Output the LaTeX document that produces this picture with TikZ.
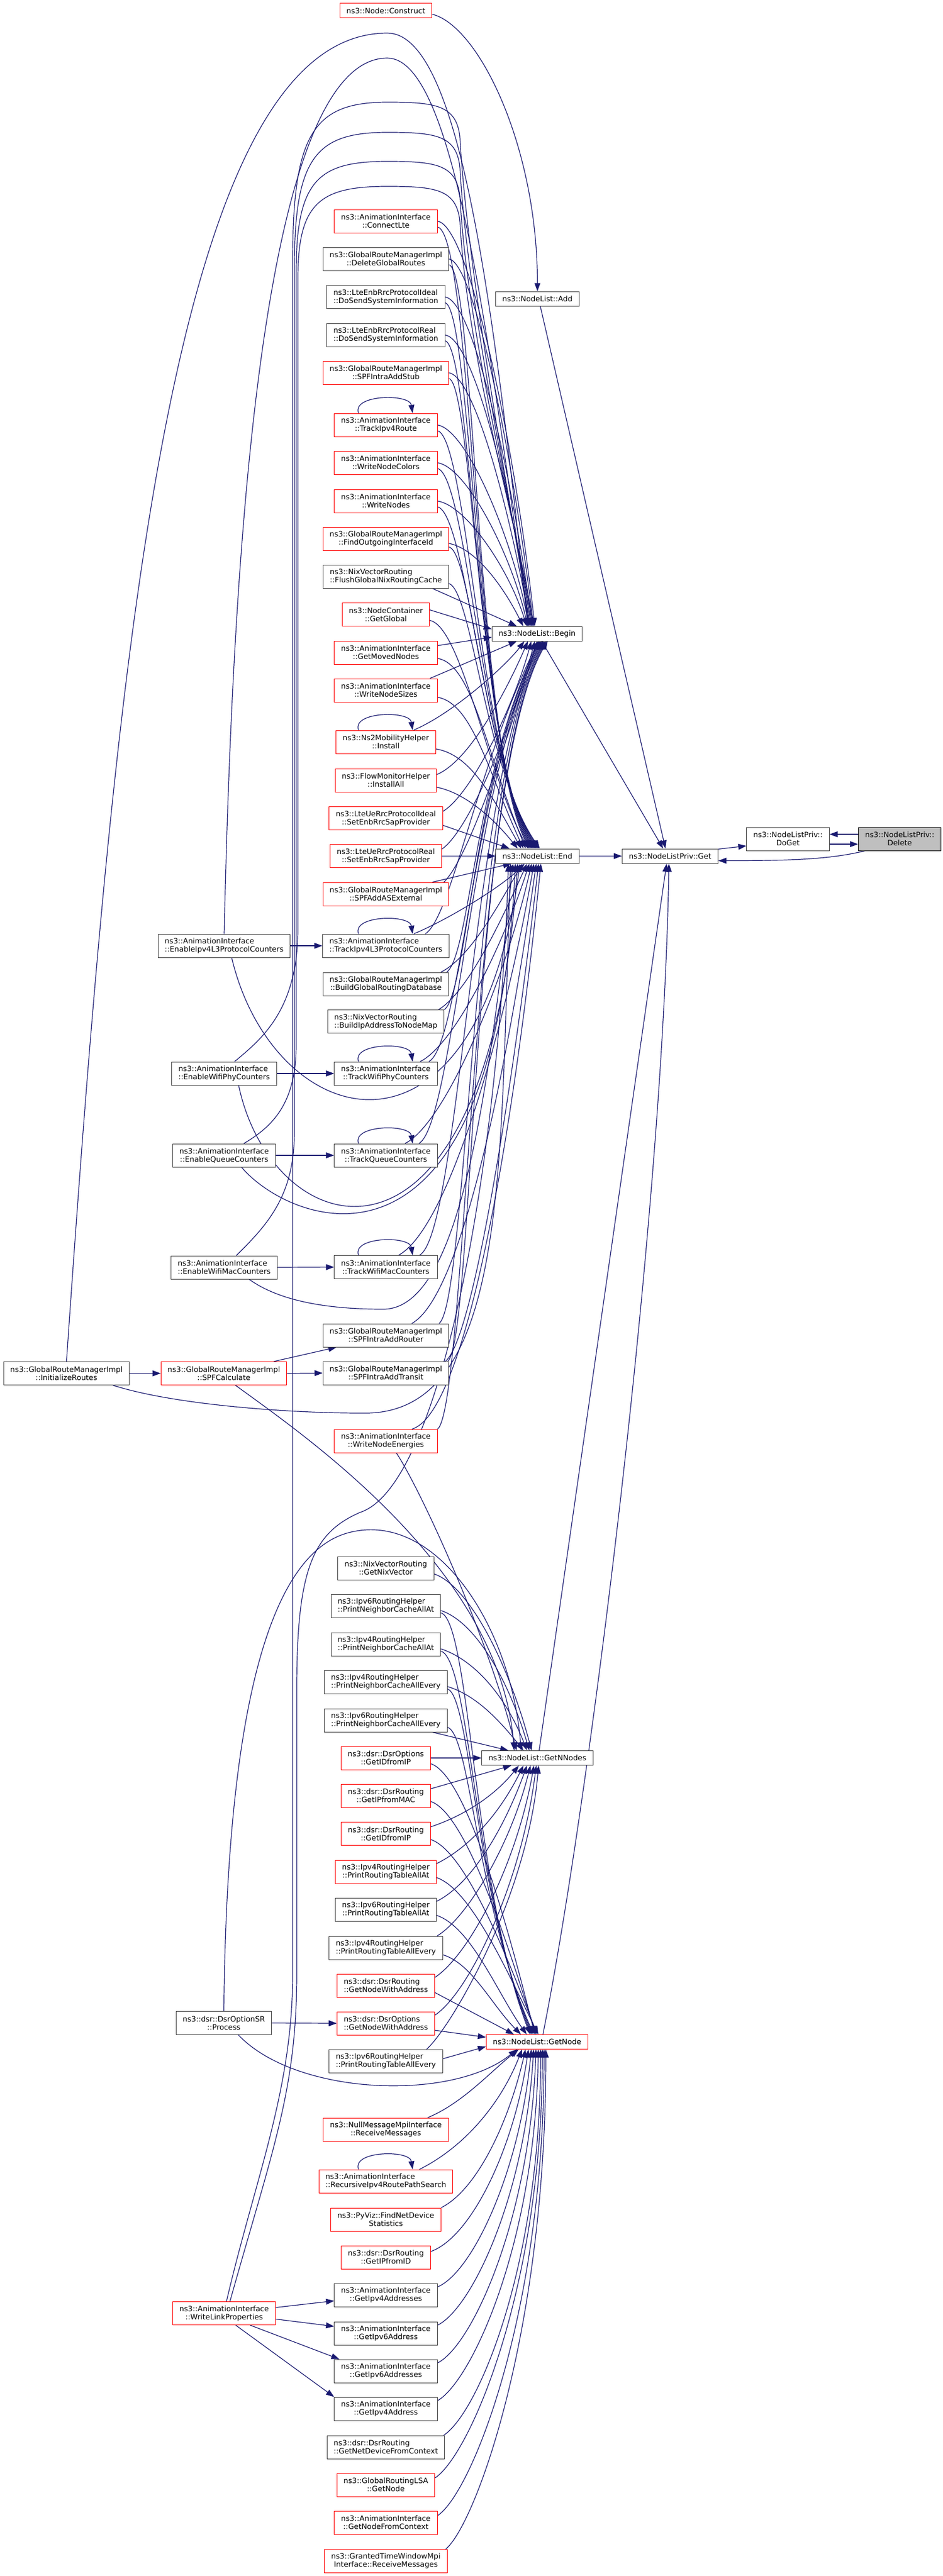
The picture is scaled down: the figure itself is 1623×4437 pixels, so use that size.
\documentclass[tikz,border=0pt]{standalone}
\usepackage{fontspec}
\setmainfont{DejaVu Sans}
\usepackage{tikz}
\usetikzlibrary{arrows.meta,backgrounds}

\definecolor{edgeblue}{RGB}{25,25,112}
\definecolor{boxgrey}{RGB}{64,64,64}
\definecolor{boxred}{RGB}{255,0,0}
\definecolor{rootgrey}{RGB}{191,191,191}

\newcommand{\fnlabel}[2]{%
  \setbox0\hbox{#1}\setbox2\hbox{#2}%
  \ifdim\wd0<\wd2 \dimen0=\wd2 \else \dimen0=\wd0 \fi
  \vbox{\hbox to\dimen0{\box0\hfil}\hbox to\dimen0{\hfil\box2\hfil}}}

\tikzset{
  fnbox/.style={draw=boxgrey, fill=white, line width=1pt, inner xsep=11.5pt,
    inner ysep=0pt, minimum height=40pt,
    font=\fontsize{12.8pt}{14pt}\selectfont},
  fnboxred/.style={fnbox, draw=boxred},
  fnsingle/.style={minimum height=25pt},
  fnroot/.style={fnbox, draw=black, fill=rootgrey},
  calledge/.style={draw=edgeblue, line width=1.2pt,
    -{Triangle[length=14pt,width=10pt]}}
}

\begin{document}
\begin{tikzpicture}[x=1pt, y=-1pt]
\useasboundingbox (0,0) rectangle (1623,4437);

\node[fnroot] (Delete) at (1549.5,1445) {\fnlabel{ns3::NodeListPriv::}{Delete}};
\node[fnbox] (DoGet) at (1357,1445) {\fnlabel{ns3::NodeListPriv::}{DoGet}};
\node[fnbox, fnsingle] (Get) at (1154,1474.5) {ns3::NodeListPriv::Get};
\node[fnbox, fnsingle] (Add) at (925.5,514.5) {ns3::NodeList::Add};
\node[fnbox, fnsingle] (Begin) at (925,1091.5) {ns3::NodeList::Begin};
\node[fnbox, fnsingle] (End) at (925.5,1474.5) {ns3::NodeList::End};
\node[fnbox, fnsingle] (GetNNodes) at (925.5,3028) {ns3::NodeList::GetNNodes};
\node[fnboxred, fnsingle] (GetNode) at (925,3517) {ns3::NodeList::GetNode};

\node[fnboxred, fnsingle] (Construct) at (664.5,18.5) {ns3::Node::Construct};
\node[fnboxred] (ConnectLte) at (664.5,381) {\fnlabel{ns3::AnimationInterface}{::ConnectLte}};
\node[fnbox] (DeleteRoutes) at (664.5,446) {\fnlabel{ns3::GlobalRouteManagerImpl}{::DeleteGlobalRoutes}};
\node[fnbox] (EnbIdealSysInfo) at (664.5,511.5) {\fnlabel{ns3::LteEnbRrcProtocolIdeal}{::DoSendSystemInformation}};
\node[fnbox] (EnbRealSysInfo) at (664.5,577) {\fnlabel{ns3::LteEnbRrcProtocolReal}{::DoSendSystemInformation}};
\node[fnboxred] (AddStub) at (664.5,642) {\fnlabel{ns3::GlobalRouteManagerImpl}{::SPFIntraAddStub}};
\node[fnboxred] (TrackRoute) at (664.5,732) {\fnlabel{ns3::AnimationInterface}{::TrackIpv4Route}};
\node[fnboxred] (NodeColors) at (664.5,797) {\fnlabel{ns3::AnimationInterface}{::WriteNodeColors}};
\node[fnboxred] (WriteNodes) at (664.5,863) {\fnlabel{ns3::AnimationInterface}{::WriteNodes}};
\node[fnboxred] (FindIface) at (664.5,928) {\fnlabel{ns3::GlobalRouteManagerImpl}{::FindOutgoingInterfaceId}};
\node[fnbox] (FlushNix) at (664.5,993) {\fnlabel{ns3::NixVectorRouting}{::FlushGlobalNixRoutingCache}};
\node[fnboxred] (GetGlobal) at (664.5,1058.5) {\fnlabel{ns3::NodeContainer}{::GetGlobal}};
\node[fnboxred] (MovedNodes) at (664.5,1124) {\fnlabel{ns3::AnimationInterface}{::GetMovedNodes}};
\node[fnboxred] (NodeSizes) at (664.5,1189) {\fnlabel{ns3::AnimationInterface}{::WriteNodeSizes}};
\node[fnboxred] (Ns2Install) at (664.5,1278) {\fnlabel{ns3::Ns2MobilityHelper}{::Install}};
\node[fnboxred] (FlowInstall) at (664.5,1344) {\fnlabel{ns3::FlowMonitorHelper}{::InstallAll}};
\node[fnboxred] (UeIdealSap) at (664.5,1409.5) {\fnlabel{ns3::LteUeRrcProtocolIdeal}{::SetEnbRrcSapProvider}};
\node[fnboxred] (UeRealSap) at (664.5,1474.5) {\fnlabel{ns3::LteUeRrcProtocolReal}{::SetEnbRrcSapProvider}};
\node[fnboxred] (AddExternal) at (664.5,1540) {\fnlabel{ns3::GlobalRouteManagerImpl}{::SPFAddASExternal}};
\node[fnbox] (TrackL3) at (664.5,1629) {\fnlabel{ns3::AnimationInterface}{::TrackIpv4L3ProtocolCounters}};
\node[fnbox] (BuildDb) at (664.5,1695) {\fnlabel{ns3::GlobalRouteManagerImpl}{::BuildGlobalRoutingDatabase}};
\node[fnbox] (BuildIpMap) at (664.5,1759.5) {\fnlabel{ns3::NixVectorRouting}{::BuildIpAddressToNodeMap}};
\node[fnbox] (TrackPhy) at (664.5,1849) {\fnlabel{ns3::AnimationInterface}{::TrackWifiPhyCounters}};
\node[fnbox] (TrackQueue) at (664.5,1990) {\fnlabel{ns3::AnimationInterface}{::TrackQueueCounters}};
\node[fnbox] (TrackMac) at (664.5,2182.5) {\fnlabel{ns3::AnimationInterface}{::TrackWifiMacCounters}};
\node[fnbox] (AddRouter) at (664.5,2300) {\fnlabel{ns3::GlobalRouteManagerImpl}{::SPFIntraAddRouter}};
\node[fnbox] (AddTransit) at (664.5,2365) {\fnlabel{ns3::GlobalRouteManagerImpl}{::SPFIntraAddTransit}};
\node[fnboxred] (NodeEnergies) at (664.5,2482) {\fnlabel{ns3::AnimationInterface}{::WriteNodeEnergies}};
\node[fnbox] (NixVector) at (664.5,2701) {\fnlabel{ns3::NixVectorRouting}{::GetNixVector}};
\node[fnbox] (SixNbrAt) at (664.5,2766) {\fnlabel{ns3::Ipv6RoutingHelper}{::PrintNeighborCacheAllAt}};
\node[fnbox] (FourNbrAt) at (664.5,2832) {\fnlabel{ns3::Ipv4RoutingHelper}{::PrintNeighborCacheAllAt}};
\node[fnbox] (FourNbrEvery) at (664.5,2897) {\fnlabel{ns3::Ipv4RoutingHelper}{::PrintNeighborCacheAllEvery}};
\node[fnbox] (SixNbrEvery) at (664.5,2963) {\fnlabel{ns3::Ipv6RoutingHelper}{::PrintNeighborCacheAllEvery}};
\node[fnboxred] (OptIdFromIp) at (664.5,3028) {\fnlabel{ns3::dsr::DsrOptions}{::GetIDfromIP}};
\node[fnboxred] (RtIpFromMac) at (664.5,3093) {\fnlabel{ns3::dsr::DsrRouting}{::GetIPfromMAC}};
\node[fnboxred] (RtIdFromIp) at (664.5,3158.5) {\fnlabel{ns3::dsr::DsrRouting}{::GetIDfromIP}};
\node[fnboxred] (FourTableAt) at (664.5,3224) {\fnlabel{ns3::Ipv4RoutingHelper}{::PrintRoutingTableAllAt}};
\node[fnbox] (SixTableAt) at (664.5,3289) {\fnlabel{ns3::Ipv6RoutingHelper}{::PrintRoutingTableAllAt}};
\node[fnbox] (FourTableEvery) at (664.5,3355) {\fnlabel{ns3::Ipv4RoutingHelper}{::PrintRoutingTableAllEvery}};
\node[fnboxred] (RtNodeAddr) at (664.5,3420) {\fnlabel{ns3::dsr::DsrRouting}{::GetNodeWithAddress}};
\node[fnboxred] (OptNodeAddr) at (664.5,3485) {\fnlabel{ns3::dsr::DsrOptions}{::GetNodeWithAddress}};
\node[fnbox] (SixTableEvery) at (664.5,3550) {\fnlabel{ns3::Ipv6RoutingHelper}{::PrintRoutingTableAllEvery}};
\node[fnboxred] (NullRecv) at (664.5,3668) {\fnlabel{ns3::NullMessageMpiInterface}{::ReceiveMessages}};
\node[fnboxred] (RouteSearch) at (664.5,3757) {\fnlabel{ns3::AnimationInterface}{::RecursiveIpv4RoutePathSearch}};
\node[fnboxred] (PyVizStats) at (664.5,3823) {\fnlabel{ns3::PyViz::FindNetDevice}{Statistics}};
\node[fnboxred] (RtIpFromId) at (664.5,3888) {\fnlabel{ns3::dsr::DsrRouting}{::GetIPfromID}};
\node[fnbox] (FourAddrs) at (664.5,3953) {\fnlabel{ns3::AnimationInterface}{::GetIpv4Addresses}};
\node[fnbox] (SixAddr) at (664.5,4019) {\fnlabel{ns3::AnimationInterface}{::GetIpv6Address}};
\node[fnbox] (SixAddrs) at (664.5,4084) {\fnlabel{ns3::AnimationInterface}{::GetIpv6Addresses}};
\node[fnbox] (FourAddr) at (664.5,4149) {\fnlabel{ns3::AnimationInterface}{::GetIpv4Address}};
\node[fnbox] (DevFromCtx) at (664.5,4215) {\fnlabel{ns3::dsr::DsrRouting}{::GetNetDeviceFromContext}};
\node[fnboxred] (LsaNode) at (664.5,4280) {\fnlabel{ns3::GlobalRoutingLSA}{::GetNode}};
\node[fnboxred] (NodeFromCtx) at (664.5,4345) {\fnlabel{ns3::AnimationInterface}{::GetNodeFromContext}};
\node[fnboxred] (GrantedRecv) at (664.5,4411) {\fnlabel{ns3::GrantedTimeWindowMpi}{Interface::ReceiveMessages}};

\node[fnbox] (InitRoutes) at (114.5,2365.5) {\fnlabel{ns3::GlobalRouteManagerImpl}{::InitializeRoutes}};
\node[fnbox] (EnableL3) at (386,1629) {\fnlabel{ns3::AnimationInterface}{::EnableIpv4L3ProtocolCounters}};
\node[fnbox] (EnablePhy) at (386,1849) {\fnlabel{ns3::AnimationInterface}{::EnableWifiPhyCounters}};
\node[fnbox] (EnableQueue) at (386,1990) {\fnlabel{ns3::AnimationInterface}{::EnableQueueCounters}};
\node[fnbox] (EnableMac) at (386,2183) {\fnlabel{ns3::AnimationInterface}{::EnableWifiMacCounters}};
\node[fnboxred] (SpfCalc) at (385.5,2365.5) {\fnlabel{ns3::GlobalRouteManagerImpl}{::SPFCalculate}};
\node[fnbox] (OptionSR) at (385.5,3484.5) {\fnlabel{ns3::dsr::DsrOptionSR}{::Process}};
\node[fnboxred] (LinkProps) at (386,3984.5) {\fnlabel{ns3::AnimationInterface}{::WriteLinkProperties}};

\begin{scope}[on background layer]
\fill[white] (0,0) rectangle (1623,4437);

\draw[calledge] ([yshift=-6pt]Construct.east) .. controls +(80,20) and +(0,-250) .. (Add.north);
\draw[calledge] ([xshift=5pt]Add.south) -- ([xshift=-8pt]Get.north);
\draw[calledge] ([xshift=8pt]Begin.south) -- ([xshift=-12pt]Get.north);
\draw[calledge] (End.east) -- (Get.west);
\draw[calledge] ([xshift=3pt]GetNNodes.north) -- ([xshift=-6pt]Get.south);
\draw[calledge] ([xshift=10pt]GetNode.north) .. controls +(80,-400) and +(-10,600) .. ([xshift=-2pt]Get.south);
\draw[calledge] ([yshift=12pt]Get.east) -- ([yshift=-12pt]DoGet.west);
\draw[calledge] ([yshift=8pt]Delete.west) -- ([yshift=8pt]DoGet.east);
\draw[calledge] ([yshift=-9pt]DoGet.east) -- ([yshift=-9pt]Delete.west);
\draw[calledge] ([xshift=-60pt]Delete.south) .. controls +(-60,15) and +(120,0) .. ([yshift=-8pt]Get.east);

\draw[calledge] (ConnectLte.east) .. controls +(55,8) and +(-35,-314) .. ([xshift=-4pt]Begin.north);
\draw[calledge] (DeleteRoutes.east) .. controls +(45,8) and +(-35,-285) .. ([xshift=-6pt]Begin.north);
\draw[calledge] (EnbIdealSysInfo.east) .. controls +(50,8) and +(-35,-255) .. ([xshift=-8pt]Begin.north);
\draw[calledge] (EnbRealSysInfo.east) .. controls +(50,8) and +(-35,-226) .. ([xshift=-10pt]Begin.north);
\draw[calledge] (AddStub.east) .. controls +(45,8) and +(-35,-197) .. ([xshift=-12pt]Begin.north);
\draw[calledge] (TrackRoute.east) .. controls +(50,8) and +(-30,-156) .. ([xshift=-14pt]Begin.north);
\draw[calledge] (NodeColors.east) .. controls +(50,8) and +(-30,-127) .. ([xshift=-16pt]Begin.north);
\draw[calledge] (WriteNodes.east) .. controls +(50,8) and +(-30,-97) .. ([xshift=-18pt]Begin.north);
\draw[calledge] ([yshift=-8pt]FindIface.east) .. controls +(50,10) and +(-30,-60) .. ([xshift=-24pt]Begin.north);
\draw[calledge] ([xshift=80pt]FlushNix.south) -- ([xshift=-35pt]Begin.north);
\draw[calledge] ([yshift=8pt]GetGlobal.east) -- ([yshift=8pt]Begin.west);
\draw[calledge] ([yshift=12pt]MovedNodes.east) -- ([yshift=-6pt]Begin.west);

\draw[calledge] ([yshift=-10pt]ConnectLte.east) .. controls +(60,12) and (818,1280) .. ([xshift=-14pt]End.north);
\draw[calledge] ([yshift=-10pt]DeleteRoutes.east) .. controls +(45,12) and (820,1285) .. ([xshift=-12pt]End.north);
\draw[calledge] ([yshift=-10pt]EnbIdealSysInfo.east) .. controls +(45,12) and (822,1290) .. ([xshift=-10pt]End.north);
\draw[calledge] ([yshift=-10pt]EnbRealSysInfo.east) .. controls +(45,12) and (824,1295) .. ([xshift=-8pt]End.north);
\draw[calledge] ([yshift=-10pt]AddStub.east) .. controls +(40,12) and (826,1300) .. ([xshift=-6pt]End.north);
\draw[calledge] ([yshift=-10pt]TrackRoute.east) .. controls +(50,12) and (828,1305) .. ([xshift=-4pt]End.north);
\draw[calledge] ([yshift=-10pt]NodeColors.east) .. controls +(50,12) and (830,1310) .. ([xshift=-2pt]End.north);
\draw[calledge] ([yshift=-10pt]WriteNodes.east) .. controls +(50,12) and (832,1315) .. (End.north);
\draw[calledge] ([yshift=-14pt]FindIface.east) .. controls +(40,12) and (834,1320) .. ([xshift=2pt]End.north);
\draw[calledge] ([yshift=-12pt]FlushNix.east) .. controls +(40,12) and (836,1325) .. ([xshift=4pt]End.north);
\draw[calledge] ([yshift=-10pt]GetGlobal.east) .. controls +(55,12) and (838,1330) .. ([xshift=-16pt]End.north);
\draw[calledge] ([yshift=-10pt]MovedNodes.east) .. controls +(60,10) and +(-70,-170) .. ([xshift=-20pt]End.north);
\draw[calledge] ([yshift=-12pt]NodeSizes.east) .. controls +(60,10) and +(-60,-130) .. ([xshift=-24pt]End.north);
\draw[calledge] ([yshift=-12pt]Ns2Install.east) .. controls +(60,10) and +(-50,-90) .. ([xshift=-28pt]End.north);
\draw[calledge] ([yshift=-12pt]FlowInstall.east) .. controls +(50,10) and +(-40,-50) .. ([xshift=-34pt]End.north);
\draw[calledge] ([yshift=-12pt]UeIdealSap.east) -- ([xshift=-48pt]End.north);
\draw[calledge] (UeRealSap.east) -- (End.west);

\draw[calledge] ([xshift=76pt]NodeSizes.north) -- ([xshift=-35pt]Begin.south);
\draw[calledge] ([xshift=48pt]Ns2Install.north) .. controls +(70,-30) and +(-30,40) .. ([xshift=-22pt]Begin.south);
\draw[calledge] ([yshift=10pt]FlowInstall.east) .. controls +(60,-25) and +(-30,70) .. ([xshift=-16pt]Begin.south);
\draw[calledge] ([yshift=12pt]UeIdealSap.east) .. controls +(50,-30) and +(-30,110) .. ([xshift=-10pt]Begin.south);
\draw[calledge] ([yshift=12pt]UeRealSap.east) .. controls +(45,-30) and +(-40,150) .. ([xshift=-4pt]Begin.south);
\draw[calledge] ([xshift=100pt]AddExternal.north) .. controls +(40,-40) and +(-60,200) .. (Begin.south);
\draw[calledge] ([xshift=80pt]AddExternal.north) -- ([xshift=-45pt]End.south);

\draw[calledge] ([xshift=48pt]TrackL3.north) .. controls +(60,-25) and +(-40,40) .. ([xshift=-22pt]End.south);
\draw[calledge] ([xshift=68pt]TrackL3.north) .. controls +(45,-30) and (818,1330) .. ([xshift=2pt]Begin.south);
\draw[calledge] ([xshift=-14pt]BuildDb.north east) .. controls +(50,-25) and +(-40,70) .. ([xshift=-26pt]End.south);
\draw[calledge] ([xshift=-4pt]BuildDb.north east) .. controls +(40,-30) and (818,1330) .. ([xshift=4pt]Begin.south);
\draw[calledge] ([xshift=-10pt]BuildIpMap.north east) .. controls +(50,-30) and +(-45,100) .. ([xshift=-18pt]End.south);
\draw[calledge] (BuildIpMap.north east) .. controls +(40,-30) and (816,1330) .. ([xshift=6pt]Begin.south);
\draw[calledge] ([xshift=-30pt]TrackPhy.north east) .. controls +(60,-30) and +(-45,140) .. ([xshift=-14pt]End.south);
\draw[calledge] ([xshift=-15pt]TrackPhy.north east) .. controls +(55,-30) and (816,1330) .. ([xshift=8pt]Begin.south);
\draw[calledge] ([xshift=-56pt]TrackQueue.north east) .. controls +(70,-35) and +(-45,200) .. ([xshift=-10pt]End.south);
\draw[calledge] ([xshift=-32pt]TrackQueue.north east) .. controls +(60,-35) and (814,1330) .. ([xshift=10pt]Begin.south);
\draw[calledge] ([xshift=-67pt]TrackMac.north east) .. controls +(90,-50) and +(-45,260) .. ([xshift=-6pt]End.south);
\draw[calledge] ([xshift=-31pt]TrackMac.north east) .. controls +(70,-40) and (814,1330) .. ([xshift=12pt]Begin.south);
\draw[calledge] ([xshift=-64pt]AddRouter.north east) .. controls +(90,-50) and +(-45,320) .. ([xshift=-2pt]End.south);
\draw[calledge] ([xshift=-17pt]AddRouter.north east) .. controls +(50,-40) and (812,1330) .. ([xshift=14pt]Begin.south);
\draw[calledge] ([xshift=-6pt]AddTransit.north east) .. controls +(50,-40) and +(-40,350) .. ([xshift=2pt]End.south);
\draw[calledge] ([xshift=-2pt]AddTransit.north east) .. controls +(45,-40) and (812,1330) .. ([xshift=16pt]Begin.south);
\draw[calledge] ([xshift=-44pt]NodeEnergies.north east) .. controls +(100,-30) and +(-40,400) .. ([xshift=6pt]End.south);
\draw[calledge] (NodeEnergies.north east) .. controls +(50,-40) and (810,1330) .. ([xshift=18pt]Begin.south);
\draw[calledge] ([xshift=18pt]NodeEnergies.south) .. controls +(40,60) and +(-50,-200) .. ([xshift=-36pt]GetNNodes.north);

\draw[calledge] ([xshift=13pt]EnableL3.south) .. controls (470,1950) and (820,2050) .. ([xshift=-30pt]End.south);
\draw[calledge] ([xshift=25pt]EnablePhy.south) .. controls (470,2150) and (840,2250) .. ([xshift=-34pt]End.south);
\draw[calledge] ([xshift=30pt]EnableQueue.south) .. controls (500,2110) and (850,2250) .. ([xshift=-38pt]End.south);
\draw[calledge] ([xshift=43pt]EnableMac.south) .. controls (480,2240) and (560,2255) .. (660,2255) .. controls (790,2255) and (840,1900) .. ([xshift=-42pt]End.south);
\draw[calledge] ([xshift=80pt]InitRoutes.south) .. controls (300,2420) and (500,2434) .. (623,2434) .. controls (880,2440) and (860,2000) .. ([xshift=-46pt]End.south);
\draw[calledge] ([xshift=10pt]LinkProps.north) .. controls (470,3700) and (511,3600) .. (511,3400) -- (511,2900) .. controls (512,2700) and (540,2640) .. (620,2605) .. controls (760,2560) and (860,2000) .. ([xshift=-50pt]End.south);

\draw[calledge] (InitRoutes.north) .. controls (200,1100) and (300,57) .. (667,57) .. controls (790,57) and (848,500) .. ([xshift=-16pt]Begin.north);
\draw[calledge] (EnableL3.north) .. controls (400,1000) and (445,100) .. (667,100) .. controls (785,100) and (842,600) .. ([xshift=-14pt]Begin.north);
\draw[calledge] ([xshift=4pt]LinkProps.north) .. controls (440,3750) and (504,3600) .. (504,3400) -- (504,450) .. controls (504,230) and (540,176) .. (667,176) .. controls (750,176) and (786,181) .. (792,236) .. controls (805,476) and (885,900) .. ([xshift=-12pt]Begin.north);
\draw[calledge] ([xshift=21pt]EnableMac.north) .. controls (460,2110) and (507,2060) .. (507,1950) -- (507,460) .. controls (507,270) and (545,228) .. (667,228) .. controls (750,228) and (786,233) .. (792,288) .. controls (805,528) and (887,900) .. ([xshift=-10pt]Begin.north);
\draw[calledge] ([xshift=34pt]EnableQueue.north) .. controls (470,1940) and (510,1900) .. (510,1800) -- (510,470) .. controls (510,310) and (548,278) .. (667,278) .. controls (750,278) and (786,283) .. (792,338) .. controls (805,578) and (889,900) .. ([xshift=-8pt]Begin.north);
\draw[calledge] ([xshift=18pt]EnablePhy.north) .. controls (450,1790) and (513,1740) .. (513,1600) -- (513,480) .. controls (513,350) and (550,321) .. (667,321) .. controls (750,321) and (786,326) .. (792,381) .. controls (805,621) and (890,900) .. ([xshift=-6pt]Begin.north);

\draw[calledge] (EnableL3.east) -- (TrackL3.west);
\draw[calledge] (EnablePhy.east) -- (TrackPhy.west);
\draw[calledge] (EnableQueue.east) -- (TrackQueue.west);
\draw[calledge] (EnableMac.east) -- (TrackMac.west);
\draw[calledge] (InitRoutes.east) -- (SpfCalc.west);
\draw[calledge] (SpfCalc.east) -- (AddTransit.west);
\draw[calledge] ([xshift=86pt]SpfCalc.north) -- ([xshift=-85pt]AddRouter.south);
\draw[calledge] ([xshift=20pt]SpfCalc.south) .. controls (520,2470) and (860,2700) .. ([xshift=-40pt]GetNNodes.north);
\draw[calledge] (OptionSR.east) -- (OptNodeAddr.west);
\draw[calledge] (OptionSR.north) .. controls (390,3000) and (450,2680) .. (600,2640) .. controls (750,2600) and (880,2800) .. ([xshift=-28pt]GetNNodes.north);
\draw[calledge] ([xshift=25pt]OptionSR.south) .. controls (510,3610) and (780,3620) .. ([xshift=-35pt]GetNode.south);
\draw[calledge] ([yshift=10pt]LinkProps.east) -- ([yshift=-10pt]FourAddrs.west);
\draw[calledge] ([yshift=-10pt]LinkProps.east) -- ([yshift=12pt]SixAddr.west);
\draw[calledge] ([xshift=45pt]LinkProps.south) -- ([xshift=-80pt]SixAddrs.north);
\draw[calledge] ([xshift=20pt]LinkProps.south) -- (FourAddr.north west);

\draw[calledge] ([yshift=-10pt]NixVector.east) .. controls +(60,20) and +(-40,-150) .. ([xshift=-10pt]GetNNodes.north);
\draw[calledge] ([yshift=-8pt]SixNbrAt.east) .. controls +(60,20) and +(-35,-120) .. ([xshift=-14pt]GetNNodes.north);
\draw[calledge] ([yshift=-12pt]SixNbrAt.east) .. controls +(50,15) and (815,3250) .. ([xshift=-12pt]GetNode.north);
\draw[calledge] ([yshift=-8pt]FourNbrAt.east) .. controls +(60,20) and +(-35,-90) .. ([xshift=-18pt]GetNNodes.north);
\draw[calledge] ([yshift=-12pt]FourNbrAt.east) .. controls +(50,15) and (817,3260) .. ([xshift=-10pt]GetNode.north);
\draw[calledge] ([yshift=-8pt]FourNbrEvery.east) .. controls +(50,15) and +(-40,-50) .. ([xshift=-24pt]GetNNodes.north);
\draw[calledge] ([yshift=-12pt]FourNbrEvery.east) .. controls +(40,15) and (819,3270) .. ([xshift=-8pt]GetNode.north);
\draw[calledge] ([xshift=80pt]SixNbrEvery.south) -- ([xshift=-50pt]GetNNodes.north);
\draw[calledge] ([yshift=-12pt]SixNbrEvery.east) .. controls +(40,15) and (821,3280) .. ([xshift=-6pt]GetNode.north);
\draw[calledge] (OptIdFromIp.east) -- (GetNNodes.west);
\draw[calledge] ([yshift=-10pt]OptIdFromIp.east) .. controls +(60,20) and +(-50,-200) .. ([xshift=-4pt]GetNode.north);
\draw[calledge] ([yshift=12pt]RtIpFromMac.east) -- ([xshift=-45pt]GetNNodes.south);
\draw[calledge] ([yshift=-10pt]RtIpFromMac.east) .. controls +(60,20) and +(-50,-160) .. ([xshift=-2pt]GetNode.north);
\draw[calledge] ([yshift=12pt]RtIdFromIp.east) .. controls +(60,-20) and +(-40,50) .. ([xshift=-32pt]GetNNodes.south);
\draw[calledge] ([yshift=-10pt]RtIdFromIp.east) .. controls +(60,20) and +(-50,-130) .. (GetNode.north);
\draw[calledge] ([yshift=14pt]FourTableAt.east) .. controls +(60,-30) and +(-40,80) .. ([xshift=-24pt]GetNNodes.south);
\draw[calledge] ([yshift=-10pt]FourTableAt.east) .. controls +(60,20) and +(-50,-100) .. ([xshift=2pt]GetNode.north);
\draw[calledge] ([yshift=14pt]SixTableAt.east) .. controls +(60,-30) and +(-40,110) .. ([xshift=-18pt]GetNNodes.south);
\draw[calledge] ([yshift=-10pt]SixTableAt.east) .. controls +(60,20) and +(-50,-70) .. ([xshift=-18pt]GetNode.north);
\draw[calledge] ([xshift=-10pt]FourTableEvery.north east) .. controls +(50,-30) and +(-35,140) .. ([xshift=-12pt]GetNNodes.south);
\draw[calledge] ([yshift=-12pt]FourTableEvery.east) .. controls +(50,15) and +(-50,-50) .. ([xshift=-28pt]GetNode.north);
\draw[calledge] ([yshift=14pt]RtNodeAddr.east) .. controls +(60,-40) and +(-30,170) .. ([xshift=-6pt]GetNNodes.south);
\draw[calledge] ([yshift=-12pt]RtNodeAddr.east) -- ([xshift=-40pt]GetNode.north);
\draw[calledge] ([yshift=14pt]OptNodeAddr.east) .. controls +(60,-40) and +(-25,200) .. ([xshift=-2pt]GetNNodes.south);
\draw[calledge] ([yshift=-12pt]OptNodeAddr.east) -- ([yshift=8pt]GetNode.west);
\draw[calledge] ([yshift=4pt]SixTableEvery.east) -- ([yshift=-8pt]GetNode.west);
\draw[calledge] ([xshift=-28pt]SixTableEvery.north east) .. controls +(40,-35) and +(-20,230) .. ([xshift=2pt]GetNNodes.south);

\draw[calledge] ([xshift=72pt]NullRecv.north) .. controls +(60,-25) and +(-50,40) .. ([xshift=-32pt]GetNode.south);
\draw[calledge] ([xshift=58pt]RouteSearch.north) .. controls +(80,-40) and +(-35,90) .. ([xshift=-26pt]GetNode.south);
\draw[calledge] (PyVizStats.north east) .. controls +(60,-30) and +(-30,130) .. ([xshift=-20pt]GetNode.south);
\draw[calledge] ([yshift=10pt]RtIpFromId.east) .. controls +(70,-25) and +(-25,170) .. ([xshift=-15pt]GetNode.south);
\draw[calledge] ([yshift=14pt]FourAddrs.east) .. controls +(60,-25) and +(-20,210) .. ([xshift=-10pt]GetNode.south);
\draw[calledge] ([yshift=14pt]SixAddr.east) .. controls +(60,-30) and +(-15,250) .. ([xshift=-6pt]GetNode.south);
\draw[calledge] ([yshift=14pt]SixAddrs.east) .. controls +(60,-30) and +(-10,290) .. ([xshift=-2pt]GetNode.south);
\draw[calledge] ([yshift=14pt]FourAddr.east) .. controls +(60,-35) and +(-5,330) .. ([xshift=2pt]GetNode.south);
\draw[calledge] ([xshift=-2pt]DevFromCtx.north east) .. controls +(60,-40) and +(0,370) .. ([xshift=6pt]GetNode.south);
\draw[calledge] ([yshift=12pt]LsaNode.east) .. controls +(60,-40) and +(0,410) .. ([xshift=9pt]GetNode.south);
\draw[calledge] ([yshift=12pt]NodeFromCtx.east) .. controls +(60,-40) and +(0,450) .. ([xshift=12pt]GetNode.south);
\draw[calledge] ([xshift=-3pt]GrantedRecv.north east) .. controls +(50,-40) and +(0,490) .. ([xshift=15pt]GetNode.south);

\draw[calledge] ([xshift=-47pt]TrackRoute.north) .. controls +(-12,-32) and +(-5,-34) .. ([xshift=46pt]TrackRoute.north);
\draw[calledge] ([xshift=-47pt]Ns2Install.north) .. controls +(-12,-32) and +(-5,-34) .. ([xshift=46pt]Ns2Install.north);
\draw[calledge] ([xshift=-47pt]TrackL3.north) .. controls +(-12,-32) and +(-5,-34) .. ([xshift=46pt]TrackL3.north);
\draw[calledge] ([xshift=-47pt]TrackPhy.north) .. controls +(-12,-32) and +(-5,-34) .. ([xshift=46pt]TrackPhy.north);
\draw[calledge] ([xshift=-47pt]TrackQueue.north) .. controls +(-12,-32) and +(-5,-34) .. ([xshift=46pt]TrackQueue.north);
\draw[calledge] ([xshift=-47pt]TrackMac.north) .. controls +(-12,-32) and +(-5,-34) .. ([xshift=46pt]TrackMac.north);
\draw[calledge] ([xshift=-47pt]RouteSearch.north) .. controls +(-12,-32) and +(-5,-34) .. ([xshift=46pt]RouteSearch.north);
\end{scope}
\end{tikzpicture}
\end{document}
